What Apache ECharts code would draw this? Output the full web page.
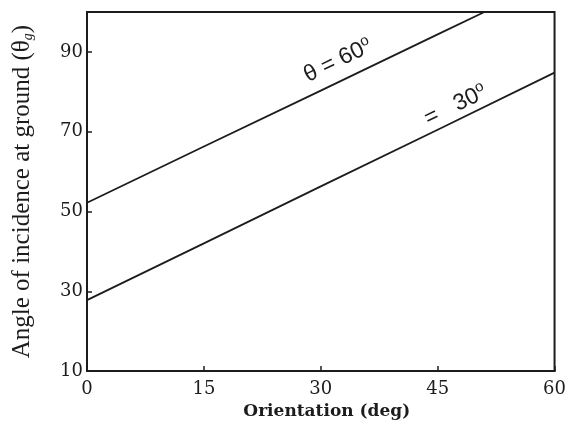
<!DOCTYPE html>
<html>
<head>
<meta charset="utf-8">
<script src="https://cdn.jsdelivr.net/npm/echarts@6/dist/echarts.min.js"></script>
<style>
  html, body { margin: 0; padding: 0; background: #fff; }
  #chart { width: 569px; height: 425px; }
</style>
</head>
<body>
<div id="chart"></div>
<script>
// Orientation (deg) and ground incidence angle for two look angles
const orientation60 = [0, 15, 30, 45, 51];
const incidence60 = [52.2, 66.3, 80.3, 94.4, 100];
const orientation30 = [0, 15, 30, 45, 60];
const incidence30 = [27.8, 42.0, 56.3, 70.5, 84.8];

const xTicks = [0, 15, 30, 45, 60];
const yTicks = [10, 30, 50, 70, 90];

const label60 = { x: 32.2, y: 87.8 };
const label30 = { x: 47.3, y: 76.6 };

const ink = '#1c1c1c';
const serif = '"DejaVu Serif", "Liberation Serif", serif';
const sans = '"Liberation Sans", Arial, sans-serif';

const pairs = (xs, ys) => xs.map((x, i) => [x, ys[i]]);

const curveLabel = text => ({
  show: true, rotate: 26, position: 'inside', fontFamily: sans, fontSize: 23, color: ink,
  formatter: text,
  rich: { sup: { fontFamily: sans, fontSize: 15, verticalAlign: 'top', padding: [0, 0, 12, 0], color: ink } }
});

const chart = echarts.init(document.getElementById('chart'));
chart.setOption({
  backgroundColor: '#fff',
  animation: false,
  grid: { left: 87, right: 11, top: 12, bottom: 49, show: true, borderColor: ink, borderWidth: 2 },
  xAxis: {
    type: 'value', min: xTicks[0], max: xTicks[xTicks.length - 1], interval: 15,
    name: 'Orientation (deg)', nameLocation: 'middle', nameGap: 26,
    nameTextStyle: { fontFamily: serif, fontSize: 17, fontWeight: 'bold', color: ink, padding: [0, 0, 0, 12] },
    axisLine: { lineStyle: { color: ink, width: 2 } },
    axisTick: { inside: true, length: 5, lineStyle: { color: ink, width: 1.5 } },
    axisLabel: { fontFamily: serif, fontSize: 18, color: ink, margin: 9,
      formatter: v => xTicks.includes(v) ? String(v) : '' },
    splitLine: { show: false }
  },
  yAxis: {
    type: 'value', min: yTicks[0], max: 100, interval: 20,
    name: 'Angle of incidence at ground (θ{sub|g})', nameLocation: 'middle', nameGap: 52,
    nameTextStyle: { fontFamily: '"Liberation Serif", serif', fontSize: 25, color: ink,
      rich: { sub: { fontFamily: '"Liberation Serif", serif', fontSize: 14, fontStyle: 'italic', verticalAlign: 'bottom', padding: [10, 0, 0, 0], color: ink } } },
    axisLine: { lineStyle: { color: ink, width: 2 } },
    axisTick: { inside: true, length: 5, lineStyle: { color: ink, width: 1.5 } },
    axisLabel: { fontFamily: serif, fontSize: 18, color: ink, margin: 4, showMaxLabel: false,
      formatter: v => yTicks.includes(v) ? String(v) : '' },
    splitLine: { show: false }
  },
  series: [
    {
      type: 'line', data: pairs(orientation60, incidence60), symbol: 'none',
      lineStyle: { color: ink, width: 1.8 },
      markPoint: {
        symbol: 'circle', symbolSize: 0,
        data: [{ coord: [label60.x, label60.y] }],
        label: curveLabel('θ = 60{sup|o}')
      }
    },
    {
      type: 'line', data: pairs(orientation30, incidence30), symbol: 'none',
      lineStyle: { color: ink, width: 1.8 },
      markPoint: {
        symbol: 'circle', symbolSize: 0,
        data: [{ coord: [label30.x, label30.y] }],
        label: curveLabel('=   30{sup|o}')
      }
    }
  ]
});
</script>
</body>
</html>
